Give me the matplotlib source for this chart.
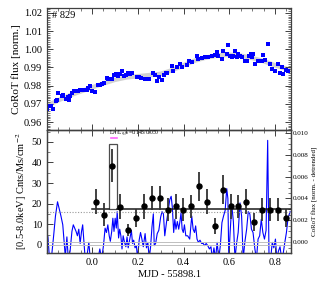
import matplotlib
matplotlib.use("Agg")
import matplotlib.pyplot as plt
from matplotlib.ticker import MultipleLocator
from matplotlib.patches import Rectangle

plt.rcParams['font.family'] = ['Liberation Serif', 'DejaVu Serif']
plt.rcParams['mathtext.fontset'] = 'stix'

# top panel: CoRoT light curve (normalised)
top_x = [-0.198, -0.188, -0.179, -0.169, -0.159, -0.153, -0.147, -0.130, -0.125, -0.115,
         -0.106, -0.101, -0.096, -0.089, -0.077, -0.060, -0.052, -0.042, -0.034, -0.023,
         -0.016, -0.009, -0.001, 0.013, 0.028, 0.035, 0.042, 0.054, 0.064, 0.071,
         0.086, 0.097, 0.104, 0.112, 0.122, 0.133, 0.141, 0.149, 0.159, 0.166,
         0.176, 0.195, 0.205, 0.214, 0.232, 0.239, 0.249, 0.268, 0.275, 0.286,
         0.294, 0.305, 0.315, 0.322, 0.327, 0.348, 0.356, 0.370, 0.385, 0.392,
         0.414, 0.424, 0.436, 0.458, 0.465, 0.480, 0.494, 0.508, 0.523, 0.538,
         0.545, 0.552, 0.567, 0.574, 0.589, 0.596, 0.603, 0.611, 0.618, 0.625,
         0.633, 0.640, 0.647, 0.657, 0.669, 0.676, 0.686, 0.695, 0.701, 0.705,
         0.713, 0.727, 0.742, 0.749, 0.756, 0.771, 0.778, 0.786, 0.800, 0.814,
         0.822, 0.829, 0.836, 0.847, 0.855]
top_y = [0.9674, 0.9686, 0.9686, 0.9674, 0.9714, 0.9723, 0.9760, 0.9745, 0.9750, 0.9727,
         0.9738, 0.9719, 0.9745, 0.9760, 0.9768, 0.9768, 0.9778, 0.9774, 0.9778, 0.9778,
         0.9787, 0.9800, 0.9768, 0.9765, 0.9805, 0.9805, 0.9809, 0.9814, 0.9841, 0.9838,
         0.9836, 0.9860, 0.9863, 0.9854, 0.9865, 0.9878, 0.9854, 0.9860, 0.9869, 0.9865,
         0.9869, 0.9845, 0.9847, 0.9841, 0.9836, 0.9836, 0.9838, 0.9869, 0.9860, 0.9827,
         0.9850, 0.9832, 0.9860, 0.9872, 0.9869, 0.9909, 0.9878, 0.9900, 0.9919, 0.9904,
         0.9915, 0.9933, 0.9928, 0.9965, 0.9946, 0.9952, 0.9955, 0.9959, 0.9965, 0.9970,
         0.9983, 0.9965, 0.9946, 0.9992, 0.9974, 1.0024, 0.9965, 0.9955, 0.9965, 0.9988,
         0.9959, 0.9974, 0.9965, 0.9955, 0.9933, 0.9933, 0.9965, 0.9974, 0.9959, 0.9974,
         0.9919, 0.9937, 0.9937, 0.9970, 0.9940, 1.0027, 0.9919, 0.9891, 0.9878, 0.9919,
         0.9869, 0.9900, 0.9863, 0.9887, 0.9883]

# smooth trend fitted to the light curve
fit_x = [-0.20, -0.15, -0.10, -0.05, 0.00, 0.05, 0.10, 0.15, 0.20, 0.25, 0.30, 0.35,
         0.40, 0.45, 0.50, 0.55, 0.60, 0.65, 0.70, 0.75, 0.80, 0.87]
fit_y = [0.9688, 0.9718, 0.9745, 0.9768, 0.9790, 0.9812, 0.9832, 0.9845, 0.9852, 0.9858,
         0.9865, 0.9885, 0.9912, 0.9938, 0.9955, 0.9966, 0.9970, 0.9965, 0.9952, 0.9935,
         0.9912, 0.9885]

# bottom panel: X-ray rate
xr_t = [0.017, 0.052, 0.086, 0.122, 0.157, 0.192, 0.227, 0.261, 0.296, 0.331,
        0.366, 0.399, 0.434, 0.468, 0.503, 0.536, 0.571, 0.606, 0.640, 0.675,
        0.710, 0.745, 0.779, 0.814, 0.848]
xr_rate = [20.9, 14.7, 38.5, 18.6, 7.3, 13.1, 18.8, 22.8, 22.8, 17.1,
           18.8, 17.1, 18.8, 28.5, 20.9, 9.2, 26.7, 18.8, 18.8, 20.9,
           11.2, 17.1, 17.1, 17.1, 13.1]
xr_err = [6.0, 5.5, 8.0, 6.0, 3.0, 4.5, 6.0, 6.0, 6.0, 5.5,
          6.0, 5.5, 5.5, 7.0, 6.0, 4.0, 7.0, 6.0, 5.5, 6.0,
          4.5, 5.5, 5.5, 5.5, 4.5]

# Bayesian blocks
blk_start = [0.000, 0.076, 0.111]
blk_end = [0.076, 0.111, 0.870]
blk_level = [17.3, 48.8, 17.6]
quiescent = 16.2

# detrended CoRoT flux
det_x = [-0.200, -0.193, -0.186, -0.178, -0.168, -0.160, -0.151, -0.143, -0.136, -0.128,
         -0.122, -0.117, -0.110, -0.104, -0.096, -0.088, -0.082, -0.076, -0.070, -0.064,
         -0.058, -0.052, -0.046, -0.041, -0.036, -0.030, -0.022, -0.014, -0.008, 0.002,
         0.010, 0.018, 0.026, 0.034, 0.042, 0.050, 0.057, 0.063, 0.069, 0.075,
         0.080, 0.086, 0.091, 0.096, 0.101, 0.106, 0.110, 0.116, 0.121, 0.126,
         0.131, 0.136, 0.142, 0.148, 0.153, 0.158, 0.166, 0.172, 0.177, 0.182,
         0.188, 0.194, 0.199, 0.206, 0.212, 0.218, 0.224, 0.232, 0.238, 0.244,
         0.250, 0.256, 0.262, 0.268, 0.272, 0.278, 0.285, 0.292, 0.300, 0.306,
         0.312, 0.318, 0.326, 0.333, 0.340, 0.346, 0.351, 0.357, 0.362, 0.367,
         0.373, 0.379, 0.385, 0.389, 0.394, 0.399, 0.404, 0.410, 0.418, 0.427,
         0.436, 0.442, 0.448, 0.453, 0.459, 0.465, 0.472, 0.479, 0.486, 0.492,
         0.499, 0.506, 0.513, 0.520, 0.526, 0.533, 0.540, 0.547, 0.554, 0.561,
         0.568, 0.575, 0.582, 0.589, 0.594, 0.598, 0.604, 0.611, 0.618, 0.625,
         0.632, 0.639, 0.647, 0.654, 0.661, 0.668, 0.676, 0.683, 0.690, 0.697,
         0.704, 0.712, 0.719, 0.726, 0.733, 0.740, 0.747, 0.754, 0.761, 0.768,
         0.774, 0.781, 0.788, 0.795, 0.802, 0.808, 0.815, 0.822, 0.829, 0.836,
         0.843, 0.850, 0.857, 0.866]
det_y = [0.0010, 0.0005, -0.0015, -0.0015, 0.0006, 0.0024, 0.0037, 0.0030, 0.0024, 0.0016,
         0.0000, -0.0013, 0.0005, -0.0015, -0.0008, 0.0010, 0.0016, 0.0013, 0.0010, 0.0006,
         0.0012, -0.0001, 0.0010, 0.0016, 0.0002, -0.0015, -0.0012, 0.0000, -0.0015, -0.0015,
         -0.0010, -0.0015, -0.0015, -0.0006, -0.0015, -0.0003, 0.0013, 0.0009, 0.0016, 0.0006,
         0.0001, 0.0010, 0.0022, 0.0010, 0.0022, 0.0013, 0.0028, 0.0004, 0.0012, 0.0006,
         -0.0006, 0.0006, 0.0000, -0.0004, 0.0005, -0.0005, 0.0004, 0.0011, -0.0001, 0.0002,
         -0.0005, -0.0003, -0.0015, 0.0002, 0.0009, 0.0003, -0.0004, 0.0008, -0.0005, 0.0000,
         -0.0015, -0.0004, 0.0014, 0.0026, -0.0003, -0.0001, 0.0008, 0.0011, 0.0023, 0.0028,
         0.0026, 0.0006, 0.0019, 0.0029, 0.0039, 0.0042, 0.0032, 0.0009, 0.0021, 0.0012,
         0.0019, 0.0012, 0.0020, 0.0027, 0.0012, 0.0009, 0.0016, 0.0006, 0.0006, 0.0003,
         0.0024, 0.0012, 0.0009, 0.0015, 0.0003, 0.0000, 0.0002, -0.0001, -0.0001, -0.0003,
         -0.0001, -0.0003, -0.0006, -0.0004, -0.0015, -0.0005, -0.0015, 0.0000, -0.0015, -0.0003,
         0.0018, 0.0024, 0.0029, 0.0049, 0.0040, -0.0015, 0.0010, 0.0034, 0.0019, -0.0015,
         -0.0001, 0.0009, 0.0036, 0.0024, -0.0015, 0.0000, 0.0012, 0.0028, 0.0026, 0.0012,
         0.0009, -0.0006, -0.0015, 0.0003, 0.0006, 0.0021, 0.0009, 0.0003, 0.0011, 0.0093,
         -0.0015, -0.0015, 0.0000, -0.0005, 0.0003, -0.0015, -0.0008, -0.0004, -0.0015, -0.0010,
         0.0000, 0.0009, 0.0022, 0.0028]

fig = plt.figure(figsize=(3.27, 2.87), dpi=100)
L, R = 47 / 327, 291 / 327
ax1 = fig.add_axes([L, 1 - 129.5 / 287, R - L, (129.5 - 8) / 287])
ax2 = fig.add_axes([L, 1 - 253 / 287, R - L, (253 - 129.5) / 287], sharex=ax1)
ax3 = ax2.twinx()

frame = '0.25'
for a in (ax1, ax2, ax3):
    for s in a.spines.values():
        s.set_color(frame)
        s.set_linewidth(0.9)

# top panel
ax1.plot(fit_x, fit_y, color='0.82', lw=3.2, solid_capstyle='round', zorder=1)
ax1.plot(top_x, top_y, 's', color='#0000ff', ms=2.3, mew=0, zorder=2)
ax1.set_xlim(-0.197, 0.87)
ax1.set_ylim(0.9559, 1.0227)
ax1.set_ylabel('CoRoT flux [norm.]', fontsize=8, labelpad=2)
ax1.text(0.02, 0.975, '# 829', transform=ax1.transAxes, fontsize=7.5, va='top', ha='left')
ax1.yaxis.set_major_locator(MultipleLocator(0.01))
ax1.yaxis.set_minor_locator(MultipleLocator(0.001))
ax1.yaxis.set_major_formatter(matplotlib.ticker.FormatStrFormatter('%.2f'))
ax1.xaxis.set_major_locator(MultipleLocator(0.2))
ax1.xaxis.set_minor_locator(MultipleLocator(0.05))
ax1.tick_params(which='both', direction='in', top=True, right=True, colors=frame,
                labelcolor='black', labelsize=7.5, labelbottom=False)
ax1.tick_params(which='major', length=4, width=0.7)
ax1.tick_params(which='minor', length=2, width=0.5)

# bottom panel: CoRoT detrended on right axis
ax3.plot(det_x, det_y, color='#0000ff', lw=0.8, zorder=1)
ax3.axhline(0.0, color='0.75', lw=0.7)
ax3.set_ylim(-0.00097, 0.01029)
ax3.yaxis.set_major_locator(MultipleLocator(0.002))
ax3.yaxis.set_minor_locator(MultipleLocator(0.0005))
ax3.yaxis.set_major_formatter(matplotlib.ticker.FormatStrFormatter('%.3f'))
ax3.tick_params(which='both', direction='in', colors=frame, labelcolor='black', labelsize=5, pad=1.5)
ax3.tick_params(which='major', length=4, width=0.7)
ax3.tick_params(which='minor', length=2, width=0.5)
ax3.set_ylabel('CoRoT flux [norm. - detrended]', fontsize=5, labelpad=2)

# X-ray panel drawn above the blue curve
ax2.set_zorder(ax3.get_zorder() + 1)
ax2.patch.set_visible(False)
ax2.axhline(0.0, color='0.75', lw=0.7)
ax2.axhline(quiescent, color='0.6', lw=0.8, ls=(0, (1, 1.5)))
for x0, x1, lv in zip(blk_start, blk_end, blk_level):
    if lv > 40:
        ax2.add_patch(Rectangle((x0, blk_level[0]), x1 - x0, lv - blk_level[0],
                                fill=False, ec='0.3', lw=0.9))
    else:
        ax2.plot([x0, x1], [lv, lv], color='0.1', lw=1.1)
ax2.errorbar(xr_t, xr_rate, yerr=xr_err, fmt='o', color='black', ecolor='0.2',
             ms=3.6, elinewidth=1.3, capsize=0, zorder=5)
ax2.plot([0.081, 0.111], [51.8, 51.8], color='#ff66ff', lw=1.2)
ax2.text(0.075, 54.0, r'L$_{Fl}$/L$_{q,fit}$=0.148/0.050', fontsize=4, ha='left', va='center')
ax2.set_ylim(-3.9, 56.0)
ax2.set_xlim(-0.197, 0.87)
ax2.yaxis.set_major_locator(MultipleLocator(10))
ax2.yaxis.set_minor_locator(MultipleLocator(5))
ax2.tick_params(which='both', direction='in', top=True, right=False, colors=frame,
                labelcolor='black', labelsize=7.5)
ax2.tick_params(which='major', length=4, width=0.7)
ax2.tick_params(which='minor', length=2, width=0.5)
ax2.set_ylabel('[0.5-8.0keV] Cnts/Ms/cm$^{-2}$', fontsize=7.5, labelpad=2)
ax2.set_xlabel('MJD - 55898.1', fontsize=7.5, labelpad=2)

fig.savefig('out.png', dpi=100)
